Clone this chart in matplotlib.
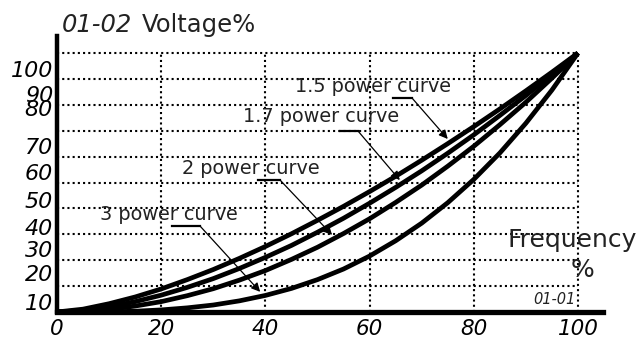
import numpy as np
import matplotlib
matplotlib.use("Agg")
import matplotlib.pyplot as plt

# Output frequency (%) and output voltage (%) for each V/F power curve
freq = [0, 5, 10, 15, 20, 25, 30, 35, 40, 45, 50, 55, 60, 65, 70, 75, 80, 85, 90, 95, 100]
volt_p15 = [0, 1.1, 3.2, 5.8, 8.9, 12.5, 16.4, 20.7, 25.3, 30.2, 35.4, 40.8, 46.5, 52.4, 58.6, 65.0, 71.6, 78.4, 85.4, 92.6, 100]
volt_p17 = [0, 0.6, 2.0, 4.0, 6.5, 9.5, 12.9, 16.8, 21.1, 25.7, 30.8, 36.2, 42.0, 48.1, 54.5, 61.3, 68.4, 75.9, 83.6, 91.7, 100]
volt_p2 = [0, 0.25, 1.0, 2.3, 4.0, 6.3, 9.0, 12.3, 16.0, 20.3, 25.0, 30.3, 36.0, 42.3, 49.0, 56.3, 64.0, 72.3, 81.0, 90.3, 100]
volt_p3 = [0, 0.01, 0.1, 0.3, 0.8, 1.6, 2.7, 4.3, 6.4, 9.1, 12.5, 16.6, 21.6, 27.5, 34.3, 42.2, 51.2, 61.4, 72.9, 85.7, 100]

curve_labels = ["1.5 power curve", "1.7 power curve", "2 power curve", "3 power curve"]
x_ticks = [0, 20, 40, 60, 80, 100]
x_tick_labels = ["0", "20", "40", "60", "80", "100"]
y_tick_labels = ["100", "90", "80", "70", "60", "50", "40", "30", "20", "10"]
y_grid = [10, 20, 30, 40, 50, 60, 70, 80, 90, 100]
x_grid = [20, 40, 60, 80, 100]

# ---- layout ----
W, H = 641, 340
X0, Y0 = 57.0, 312.0          # pixel position of the origin
SX, SY = 5.21, 2.59           # pixels per percent
def px2data(px, py):
    return (px - X0) / SX, (Y0 - py) / SY

fig = plt.figure(figsize=(W / 100, H / 100), dpi=100)
fig.patch.set_facecolor("white")
ax = fig.add_axes([X0 / W, (H - Y0) / H, 546 / W, 276 / H])
ax.set_xlim(0, 546 / SX)
ax.set_ylim(0, 276 / SY)
ax.set_facecolor("white")

for s in ("top", "right"):
    ax.spines[s].set_visible(False)
ax.spines["left"].set_linewidth(3.2)
ax.spines["bottom"].set_linewidth(3.8)

dot = (0, (1, 1.5))
for yv in y_grid:
    ax.plot([0, 100], [yv, yv], color="black", lw=1.5, ls=dot, zorder=1)
for xv in x_grid:
    ax.plot([xv, xv], [0, 100], color="black", lw=1.5, ls=dot, zorder=1)

curves = [volt_p15, volt_p17, volt_p2, volt_p3]
for v in curves:
    ax.plot(freq, v, color="black", lw=3.4, solid_capstyle="butt", zorder=3)

# tick labels
ax.set_xticks(x_ticks)
ax.set_xticklabels(x_tick_labels, fontsize=15.5, style="italic")
ax.tick_params(axis="x", length=0, pad=5)
y_label_px = [69, 94, 108, 146, 172, 200, 227, 249, 273, 302]
ax.set_yticks([(Y0 - p) / SY for p in y_label_px])
ax.set_yticklabels(y_tick_labels, fontsize=16, style="italic")
ax.tick_params(axis="y", length=0, pad=3)

# curve annotations: text position, underline leader, arrow target frequency
ann_text_px = [(295, 87), (243, 117), (182, 168), (100, 215)]
ann_leader_px = [(393, 412, 98), (340, 358, 131), (258, 280, 180), (172, 200, 226)]
ann_tip_freq = [75.0, 65.8, 52.8, 39.0]
for lab, (tx, ty), (lx0, lx1, ly), tf, v in zip(curve_labels, ann_text_px, ann_leader_px,
                                                ann_tip_freq, curves):
    xd, yd = px2data(tx, ty)
    ax.text(xd, yd, lab, fontsize=13.9, ha="left", va="center", color="#222222", zorder=4)
    a0 = px2data(lx0, ly)
    a1 = px2data(lx1, ly)
    ax.plot([a0[0], a1[0]], [a0[1], a1[1]], color="black", lw=1.6, zorder=4)
    tip_v = np.interp(tf, freq, v) + 1.8
    ax.annotate("", xy=(tf, tip_v), xytext=a1,
                arrowprops=dict(arrowstyle="-|>", color="black", lw=0.9,
                                mutation_scale=13, shrinkA=0, shrinkB=0), zorder=4)

# titles and axis names
fig.text(62 / W, 1 - 25 / H, "01-02", fontsize=17.5, style="italic", ha="left", va="center",
         color="#222222")
fig.text(142 / W, 1 - 25 / H, "Voltage%", fontsize=17.5, ha="left", va="center",
         color="#222222")
fig.text(507 / W, 1 - 240 / H, "Frequency", fontsize=18, ha="left", va="center", color="#222222")
fig.text(583 / W, 1 - 270 / H, "%", fontsize=18, ha="center", va="center", color="#222222")
fig.text(533 / W, 1 - 300 / H, "01-01", fontsize=10.5, style="italic", ha="left", va="center",
         color="#222222")

fig.savefig("out.png", dpi=100, facecolor="white")
